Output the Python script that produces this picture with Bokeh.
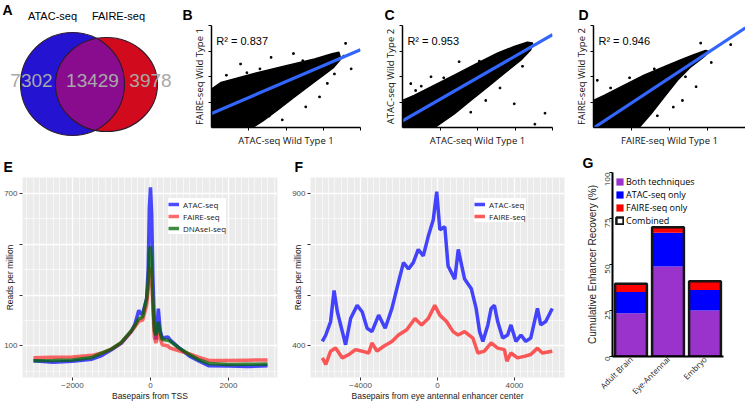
import math
import numpy as np
from bokeh.plotting import figure
from bokeh.layouts import row, column
from bokeh.models import (Range1d, FixedTicker, SingleIntervalTicker, Label, Legend,
                          LegendItem, FactorRange, ColumnDataSource)
from bokeh.core.properties import value
from bokeh.embed import file_html
from bokeh.resources import INLINE

ARIAL = "Liberation Sans"
HUM = "Open Sans"

# ---------------- data ----------------
VENN_SETS = ["ATAC-seq", "FAIRE-seq"]
VENN_COUNTS = [7302, 13429, 3978]

SC_XLABELS = ["ATAC-seq Wild Type 1", "ATAC-seq Wild Type 1", "FAIRE-seq Wild Type 1"]
SC_YLABELS = ["FAIRE-seq Wild Type 1", "ATAC-seq Wild Type 2", "FAIRE-seq Wild Type 2"]
SC_R2 = ["0.837", "0.953", "0.946"]

B_CLOUD_X = [0, 0, 0.26, 1.10, 2.03, 2.77, 3.24, 3.42, 3.47, 3.28, 3.05, 2.68, 2.21, 1.75, 1.38, 1.10]
B_CLOUD_Y = [0, 1.51, 1.77, 2.10, 2.43, 2.69, 2.89, 2.95, 2.69, 2.36, 2.10, 1.70, 1.18, 0.66, 0.26, 0]
B_PTS_X = [3.60, 0.78, 2.53, 3.11, 1.60, 2.20, 3.75, 0.40, 2.90, 1.90, 1.30, 0.95, 2.45, 3.30, 3.55, 1.55]
B_PTS_Y = [3.30, 2.49, 0.81, 1.73, 2.75, 2.90, 2.30, 2.05, 1.20, 0.30, 2.30, 2.15, 2.62, 2.10, 2.80, 0.45]
B_FIT_X = [0, 4]
B_FIT_Y = [0.55, 3.05]

C_CLOUD_X = [0, 0, 0.31, 0.76, 1.38, 2.00, 2.53, 2.98, 3.33, 3.47, 3.42, 3.16, 2.71, 2.27, 1.82, 1.38, 0.93, 0.84]
C_CLOUD_Y = [0, 1.06, 1.26, 1.59, 2.05, 2.52, 2.91, 3.18, 3.34, 3.31, 3.05, 2.65, 2.12, 1.59, 1.06, 0.53, 0.07, 0]
C_PTS_X = [1.51, 2.98, 3.80, 3.53, 0.76, 0.22, 2.22, 1.82, 0.50, 1.10, 2.60, 3.20, 0.35, 2.05]
C_PTS_Y = [2.58, 0.93, 0.56, 0.13, 1.99, 1.72, 1.06, 0.60, 1.62, 1.95, 1.55, 2.40, 1.45, 2.60]
C_FIT_X = [0, 4]
C_FIT_Y = [0.26, 3.64]

D_CLOUD_X = [0, 0, 0.28, 0.81, 1.33, 1.86, 2.29, 2.64, 2.95, 3.04, 2.91, 2.56, 2.21, 1.86, 1.51, 1.24, 1.20]
D_CLOUD_Y = [0, 1.06, 1.26, 1.66, 2.05, 2.38, 2.65, 2.85, 3.02, 2.98, 2.78, 2.38, 1.85, 1.19, 0.53, 0.07, 0]
D_PTS_X = [2.82, 3.61, 0.10, 2.42, 1.68, 2.34, 0.45, 0.95, 1.60, 2.70, 3.10, 2.10]
D_PTS_Y = [3.31, 3.25, 1.85, 1.99, 0.46, 1.06, 1.55, 1.95, 2.30, 1.60, 2.55, 0.80]
D_FIT_X = [0.02, 4]
D_FIT_Y = [0.0, 3.91]

E_X = [-3000, -2500, -2000, -1500, -1250, -1000, -750, -500, -400, -300, -250, -200, -100, -60, -30, 0,
       30, 60, 100, 140, 200, 250, 300, 450, 500, 750, 1000, 1250, 1500, 2000, 2500, 3000]
E_ATAC = [42, 36, 40, 48, 62, 85, 110, 155, 185, 240, 225, 228, 286, 400, 640, 723,
          620, 380, 182, 125, 247, 160, 131, 135, 124, 90, 60, 40, 22, 21, 19, 22]
E_FAIRE = [54, 56, 57, 63, 72, 88, 112, 155, 175, 197, 200, 202, 260, 320, 390, 409,
           360, 250, 131, 112, 150, 130, 105, 100, 92, 80, 69, 55, 43, 43, 44, 45]
E_DNASE = [42, 43, 45, 55, 72, 88, 114, 158, 180, 208, 210, 215, 286, 350, 470, 491,
           420, 280, 158, 143, 195, 150, 125, 122, 119, 90, 66, 45, 31, 27, 28, 29]
E_YTICKS = [100, 300, 500, 700]
E_YLABELS = ["100", "", "", "700"]

F_ATAC_X = [-5990, -5810, -5560, -5380, -5210, -4950, -4780, -4520, -4180, -3920, -3660, -3410, -3060,
            -2720, -2370, -2030, -1770, -1510, -1260, -1000, -740, -480, -220, -40, 120, 380, 550, 900,
            1080, 1410, 1760, 2010, 2190, 2360, 2620, 2790, 2960, 3130, 3390, 3650, 3820, 4080, 4340,
            4590, 4850, 5200, 5370, 5630, 5970]
F_ATAC = [415, 436, 480, 582, 512, 447, 404, 490, 533, 512, 458, 447, 501, 458, 523, 609, 673, 652,
          673, 716, 695, 759, 813, 905, 781, 790, 662, 619, 716, 619, 587, 523, 447, 415, 469, 523,
          533, 480, 426, 436, 469, 415, 436, 415, 426, 523, 469, 480, 523]
F_FAIRE_X = [-5990, -5810, -5560, -5300, -4950, -4610, -4270, -3920, -3580, -3410, -3150, -2800, -2370,
             -2030, -1600, -1170, -830, -480, -140, 120, 470, 810, 1070, 1410, 1840, 2100, 2440, 2790,
             3130, 3480, 3610, 3820, 4160, 4510, 4850, 5200, 5450, 5970]
F_FAIRE = [361, 340, 383, 393, 361, 372, 388, 383, 377, 410, 383, 399, 415, 436, 453, 490, 469, 490,
           533, 501, 480, 447, 436, 447, 426, 377, 383, 410, 393, 388, 350, 377, 361, 366, 372, 393,
           377, 383]
F_YTICKS = [400, 400 + 500 / 3, 400 + 1000 / 3, 900]
F_YLABELS = ["400", "", "", "900"]

G_TISSUES = ["Adult Brain", "Eye-Antennal", "Embryo"]
G_BOTH = [23.5, 48.9, 25.0]
G_ATAC_ONLY = [11.5, 18.3, 11.2]
G_FAIRE_ONLY = [4.5, 3.1, 4.7]
G_YTICKS = [0, 25, 50, 75, 100]

BLUE = "#2414d2"
RED = "#d20a1e"
PURPLE = "#8a0c8e"


def base_fig(**kw):
    p = figure(output_backend="svg", toolbar_location=None, frame_align=False, **kw)
    p.outline_line_color = None
    return p


def letter_title(p, t, offset, standoff, valign="bottom"):
    p.title.text = t
    p.title.align = "left"
    p.title.vertical_align = valign
    p.title.offset = offset
    p.title.standoff = standoff
    p.title.text_font = ARIAL
    p.title.text_font_size = "14px"
    p.title.text_font_style = "bold"
    p.title.text_color = "black"


# ---------------- A: Venn ----------------
pa = base_fig(width=180, height=150, x_range=Range1d(0, 180), y_range=Range1d(150, 0), min_border=0)
pa.axis.visible = False
pa.grid.visible = False
E_BLUE = (72, 83.5, 104, 103)
E_RED = (106, 84, 102, 94)


def ell_pts(cx, cy, w, h, t):
    return cx + w / 2 * np.cos(t), cy + h / 2 * np.sin(t)


def inside(x, y, cx, cy, w, h):
    return ((x - cx) / (w / 2)) ** 2 + ((y - cy) / (h / 2)) ** 2 <= 1


t1 = np.linspace(-np.pi, np.pi, 1441)
bx, by = ell_pts(*E_BLUE, t1)
m1 = inside(bx, by, *E_RED)
t2 = np.linspace(0, 2 * np.pi, 1441)
rx, ry = ell_pts(*E_RED, t2)
m2 = inside(rx, ry, *E_BLUE)
lens_x = np.concatenate([bx[m1], rx[m2]])
lens_y = np.concatenate([by[m1], ry[m2]])

pa.ellipse(x=[E_BLUE[0]], y=[E_BLUE[1]], width=E_BLUE[2], height=E_BLUE[3],
           fill_color=BLUE, line_color=None)
pa.ellipse(x=[E_RED[0]], y=[E_RED[1]], width=E_RED[2], height=E_RED[3],
           fill_color=RED, line_color=None)
pa.patch(lens_x, lens_y, fill_color=PURPLE, line_color=None)
pa.ellipse(x=[E_BLUE[0], E_RED[0]], y=[E_BLUE[1], E_RED[1]], width=[E_BLUE[2], E_RED[2]],
           height=[E_BLUE[3], E_RED[3]], fill_color=None, line_color="#2a1a2a", line_width=1.1)
pa.text(x=[31, 92, 150], y=[80, 80, 80], text=[str(c) for c in VENN_COUNTS],
        text_font=value(ARIAL), text_font_size="19px", text_color="#a8a8a8",
        text_align="center", text_baseline="middle")
pa.text(x=[52, 118], y=[15, 15], text=VENN_SETS, text_font=value(ARIAL), text_font_size="11px",
        text_color="black", text_align="center", text_baseline="middle")
pa.add_layout(Label(x=2, y=1, text="A", text_font=ARIAL, text_font_size="14px",
                    text_font_style="bold", text_color="black", text_baseline="top"))


# ---------------- B, C, D: scatter ----------------
def scatter_panel(width, left, right, let, loff, cx, cy, px, py, fx, fy, r2, xlab, ylab):
    p = base_fig(width=width, height=150, x_range=Range1d(0, 4), y_range=Range1d(0, 4),
                 min_border_left=left, min_border_right=right, min_border_top=25, min_border_bottom=23)
    p.grid.visible = False
    p.patch(cx, cy, fill_color="black", line_color="black", line_width=1.5)
    p.scatter(px, py, size=1.6, marker="square", color="black")
    p.line(fx, fy, line_color="#3366FF", line_width=3.2)
    for ax in (p.xaxis[0], p.yaxis[0]):
        ax.ticker = FixedTicker(ticks=[1, 2, 3, 4])
        ax.major_label_text_font_size = "1px"
        ax.major_label_text_color = None
        ax.major_label_standoff = 0
        ax.major_tick_in = 0
        ax.major_tick_out = 3
        ax.major_tick_line_color = "black"
        ax.minor_tick_line_color = None
        ax.axis_line_width = 1.5
        ax.axis_line_color = "black"
        ax.axis_label_text_font = HUM
        ax.axis_label_text_font_size = "9.5px"
        ax.axis_label_text_font_style = "normal"
        ax.axis_label_text_color = "#111111"
        ax.axis_label_standoff = 3
    p.xaxis.axis_label = xlab
    p.yaxis.axis_label = ylab
    p.add_layout(Label(x=0.13, y=3.41, text="R² = " + r2, text_font=ARIAL, text_font_size="11px",
                       text_color="black", text_baseline="middle"))
    letter_title(p, let, loff, 2, valign="top")
    return p


pb = scatter_panel(190, 31, 10, "B", -29, B_CLOUD_X, B_CLOUD_Y, B_PTS_X, B_PTS_Y, B_FIT_X, B_FIT_Y,
                   SC_R2[0], SC_XLABELS[0], SC_YLABELS[0])
pc = scatter_panel(190, 32, 8, "C", -18, C_CLOUD_X, C_CLOUD_Y, C_PTS_X, C_PTS_Y, C_FIT_X, C_FIT_Y,
                   SC_R2[1], SC_XLABELS[1], SC_YLABELS[1])
pd = scatter_panel(185, 33, 0, "D", -15, D_CLOUD_X, D_CLOUD_Y, D_PTS_X, D_PTS_Y, D_FIT_X, D_FIT_Y,
                   SC_R2[2], SC_XLABELS[2], SC_YLABELS[2])


# ---------------- E, F: profiles ----------------
def gg_axes(p, xint, yticks, yminor, ylabels, xlabel):
    p.xaxis.ticker = SingleIntervalTicker(interval=xint, num_minor_ticks=12)
    p.yaxis.ticker = FixedTicker(ticks=yticks, minor_ticks=yminor)
    p.yaxis.major_label_overrides = dict(zip(yticks, ylabels))
    for ax in p.axis:
        ax.axis_line_color = None
        ax.major_tick_line_color = "#333333"
        ax.major_tick_out = 3
        ax.major_tick_in = 0
        ax.minor_tick_line_color = None
        ax.major_label_text_font = ARIAL
        ax.major_label_text_font_size = "8px"
        ax.major_label_text_color = "#4D4D4D"
        ax.major_label_standoff = 1
        ax.axis_label_text_font = ARIAL
        ax.axis_label_text_font_size = "8.5px"
        ax.axis_label_text_font_style = "normal"
        ax.axis_label_text_color = "#1a1a1a"
    p.xaxis.axis_label = xlabel
    p.xaxis.axis_label_standoff = 0
    p.yaxis.axis_label = "Reads per million"
    p.yaxis.axis_label_standoff = -14
    p.xgrid.grid_line_color = "white"
    p.xgrid.grid_line_width = 1.3
    p.xgrid.minor_grid_line_color = "white"
    p.xgrid.minor_grid_line_width = 0.6
    p.ygrid.grid_line_color = "white"
    p.ygrid.grid_line_width = 1.3
    p.ygrid.minor_grid_line_color = "white"
    p.ygrid.minor_grid_line_width = 0.6


def gg_legend(p, items, loc):
    lg = Legend(items=items, location=loc, background_fill_color="white", background_fill_alpha=1,
                border_line_color=None, label_text_font=HUM, label_text_font_size="8px",
                label_text_color="#1a1a1a", glyph_height=12, glyph_width=11, label_height=12,
                spacing=0, padding=3, margin=0, label_standoff=4)
    p.add_layout(lg)


pe = base_fig(width=290, height=253, x_range=Range1d(-3282, 3256), y_range=Range1d(-24, 762),
              min_border_left=22, min_border_right=13, min_border_top=27, min_border_bottom=23,
              background_fill_color="#EBEBEB")
gg_axes(pe, 2000, E_YTICKS, [0, 200, 400, 600], E_YLABELS, "Basepairs from TSS")
e1 = pe.line(E_X, E_ATAC, line_color="#0000ff", line_alpha=0.7, line_width=3.5)
e2 = pe.line(E_X, E_FAIRE, line_color="#ff1a1a", line_alpha=0.65, line_width=3.5)
e3 = pe.line(E_X, E_DNASE, line_color="#006400", line_alpha=0.75, line_width=3.5)
gg_legend(pe, [LegendItem(label="ATAC-seq", renderers=[e1]),
               LegendItem(label="FAIRE-seq", renderers=[e2]),
               LegendItem(label="DNAseI-seq", renderers=[e3])], (146, 143))
letter_title(pe, "E", -19, 6)

pf = base_fig(width=290, height=253, x_range=Range1d(-6606, 6606), y_range=Range1d(296.8, 951.6),
              min_border_left=18, min_border_right=16, min_border_top=27, min_border_bottom=23,
              background_fill_color="#EBEBEB")
F_MINOR = [F_YTICKS[0] - 250 / 3] + [(a + b) / 2 for a, b in zip(F_YTICKS[:-1], F_YTICKS[1:])]
gg_axes(pf, 4000, F_YTICKS, F_MINOR, F_YLABELS, "Basepairs from eye antennal enhancer center")
f1 = pf.line(F_ATAC_X, F_ATAC, line_color="#0000ff", line_alpha=0.72, line_width=3.5)
f2 = pf.line(F_FAIRE_X, F_FAIRE, line_color="#ff1a1a", line_alpha=0.72, line_width=3.5)
gg_legend(pf, [LegendItem(label="ATAC-seq", renderers=[f1]),
               LegendItem(label="FAIRE-seq", renderers=[f2])], (164, 155))
letter_title(pf, "F", -16, 6)

# ---------------- G: stacked bars ----------------
src = ColumnDataSource(dict(tissue=G_TISSUES, both=G_BOTH, atac=G_ATAC_ONLY, faire=G_FAIRE_ONLY,
                            total=[a + b + c for a, b, c in zip(G_BOTH, G_ATAC_ONLY, G_FAIRE_ONLY)]))
pg = base_fig(width=165, height=253, x_range=FactorRange(factors=G_TISSUES, range_padding=0),
              y_range=Range1d(0, 100), min_border_left=32, min_border_right=22, min_border_top=22,
              min_border_bottom=47)
pg.grid.visible = False
rs = pg.vbar_stack(["both", "atac", "faire"], x="tissue", width=0.86,
                   fill_color=["#9933CC", "#0000FF", "#FF0000"], line_color=None, source=src)
rc = pg.vbar(x="tissue", top="total", width=0.86, fill_color=None, line_color="#151515",
             line_width=2.5, source=src)
pg.yaxis.ticker = FixedTicker(ticks=G_YTICKS)
pg.yaxis.major_label_orientation = math.pi / 2
pg.xaxis.major_label_orientation = math.pi / 4
for ax in pg.axis:
    ax.axis_line_width = 2
    ax.axis_line_color = "black"
    ax.major_tick_out = 3
    ax.major_tick_in = 0
    ax.minor_tick_line_color = None
    ax.major_label_text_font = HUM
    ax.major_label_text_color = "#222222"
    ax.major_label_standoff = 2
    ax.axis_label_text_font_style = "normal"
pg.xaxis.major_tick_out = 0
pg.xaxis.major_label_standoff = 1
pg.yaxis.major_label_text_font_size = "8px"
pg.xaxis.major_label_text_font_size = "8px"
pg.yaxis.axis_label = "Cumulative Enhancer Recovery (%)"
pg.yaxis.axis_label_text_font = ARIAL
pg.yaxis.axis_label_text_font_size = "10px"
pg.yaxis.axis_label_text_color = "#222222"
pg.yaxis.axis_label_standoff = 2
lgg = Legend(items=[LegendItem(label="Both techniques", renderers=[rs[0]]),
                    LegendItem(label="ATAC-seq only", renderers=[rs[1]]),
                    LegendItem(label="FAIRE-seq only", renderers=[rs[2]]),
                    LegendItem(label="Combined", renderers=[rc])],
             location="top_left", background_fill_alpha=0, border_line_color=None,
             label_text_font=HUM, label_text_font_size="9px", label_text_color="black",
             glyph_height=9, glyph_width=9, label_height=10, spacing=0, padding=2, margin=3,
             label_standoff=2)
pg.add_layout(lgg)
letter_title(pg, "G", -30, 4)

layout = column(row(pa, pb, pc, pd), row(pe, pf, pg))

open("out.html", "w").write(file_html(layout, INLINE))
